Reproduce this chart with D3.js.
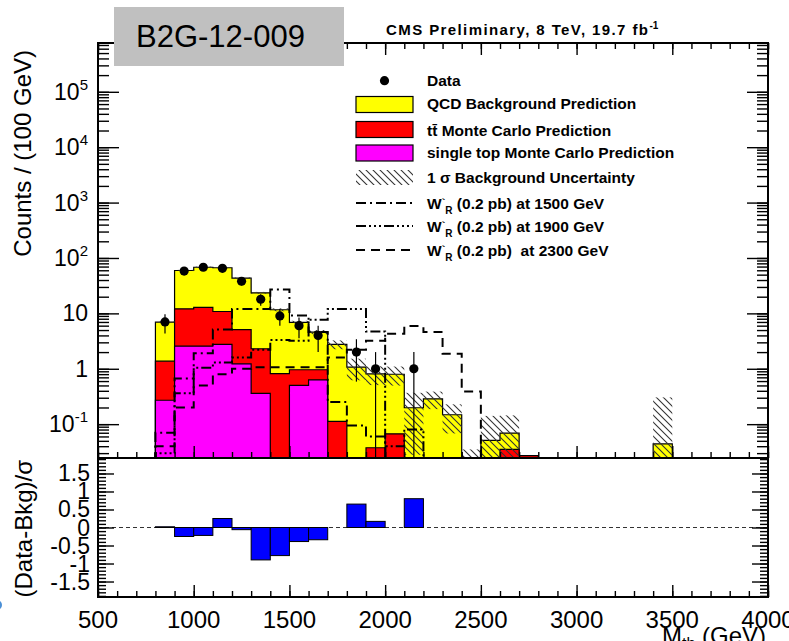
<!DOCTYPE html>
<html>
<head>
<meta charset="utf-8">
<script src="https://cdn.jsdelivr.net/npm/d3@7"></script>
<style>
  body { margin: 0; background: #fff; }
  svg { display: block; font-family: "Liberation Sans", Arial, sans-serif; }
  text { white-space: pre; }
</style>
</head>
<body>
<div id="chart"></div>
<script>
// ---- data ----
// low edge of each 100 GeV bin
var binLow = [800, 900, 1000, 1100, 1200, 1300, 1400, 1500, 1600, 1700, 1800, 1900, 2000, 2100,
              2200, 2300, 2400, 2500, 2600, 2700, 2800, 2900, 3000, 3100, 3200, 3300, 3400];
var singleTop = [0.27, 2.56, 2.56, 2.75, 1.23, 0.36, 0, 0.5, 0.63, 0, 0, 0, 0, 0,
                 0, 0, 0, 0, 0, 0, 0, 0, 0, 0, 0, 0, 0];
var ttbar = [1.1, 9.5, 10.3, 8.05, 3.87, 1.94, 0.82, 0.46, 0.33, 0.112, 0, 0.0375, 0.067, 0,
             0, 0, 0, 0, 0.035, 0.027, 0, 0, 0, 0, 0, 0, 0];
var qcd = [5.57, 47.4, 55.1, 55.8, 38.1, 21.2, 10.8, 5.94, 3.64, 2.64, 1.07, 0.77, 0.73, 0.198,
           0.287, 0.148, 0, 0.051, 0.034, 0, 0, 0, 0, 0, 0, 0, 0.044];
var bkgErr = [0.25, 1.5, 1.8, 1.8, 1.3, 0.9, 0.7, 0.45, 0.4, 0.5, 0.45, 0.3, 0.3, 0.17,
              0.1, 0.08, 0.035, 0.09, 0.075, 0, 0, 0, 0, 0, 0, 0, 0.26];
var dataCounts = [7, 58, 68, 65, 38, 18, 9, 6, 4, 0, 2, 1, 0, 1,
                  0, 0, 0, 0, 0, 0, 0, 0, 0, 0, 0, 0, 0];
var pull = [0.02, -0.25, -0.22, 0.25, -0.06, -0.9, -0.78, -0.39, -0.34, 0, 0.65, 0.17, 0, 0.8,
            0, 0, 0, 0, 0, 0, 0, 0, 0, 0, 0, 0, 0];
var w1500 = [0.07, 0.67, 1.9, 5.1, 12, 12, 27, 9.2, 4.6, 0.25, 0.095, 0.06, 0, 0,
             0, 0, 0, 0, 0, 0, 0, 0, 0, 0, 0, 0, 0];
var w1900 = [0.03, 0.36, 1.04, 1.3, 1.6, 2.2, 3.3, 3.2, 7.7, 12, 12, 4.7, 0.04, 0.08,
             0, 0, 0, 0, 0, 0, 0, 0, 0, 0, 0, 0, 0];
var w2300 = [0.04, 0.2, 0.5, 0.8, 1.0, 1.07, 1.07, 1.07, 1.07, 1.6, 2.2, 3.2, 4.3, 5.9,
             4.6, 1.86, 0.39, 0, 0, 0, 0, 0, 0, 0, 0, 0, 0];

// tick labels
var xTicks = [500, 1000, 1500, 2000, 2500, 3000, 3500, 4000];
var yExponents = [-1, 0, 1, 2, 3, 4, 5];
var pullTicks = [1.5, 1, 0.5, 0, -0.5, -1, -1.5];

var binWidth = 100;

// ---- frame geometry ----
var W = 789, H = 641;
var fLeft = 98, fRight = 768, fTop = 43, fMid = 458, fBottom = 597;

var svg = d3.select("#chart").append("svg")
    .attr("width", W)
    .attr("height", H);

var x = d3.scaleLinear().domain([500, 4000]).range([fLeft, fRight]);
var y = d3.scaleLog().domain([0.0245, 7.6e5]).range([fMid, fTop]);
var yr = d3.scaleLinear().domain([-1.93, 1.93]).range([fBottom, fMid]);

var defs = svg.append("defs");
defs.append("clipPath").attr("id", "clipMain")
  .append("rect")
    .attr("x", fLeft).attr("y", fTop)
    .attr("width", fRight - fLeft).attr("height", fMid - fTop);
var hatch = defs.append("pattern")
    .attr("id", "hatch")
    .attr("patternUnits", "userSpaceOnUse")
    .attr("width", 7).attr("height", 7);
hatch.append("path")
    .attr("d", "M-1,-1 L8,8 M-1,6 L1,8 M6,-1 L8,1")
    .attr("stroke", "#333")
    .attr("stroke-width", 1.1);

/* cumulative stack, drawn from the bottom like THStack */
var cumST = singleTop.slice();
var cumTT = singleTop.map(function(v, i) { return v + ttbar[i]; });
var total = cumTT.map(function(v, i) { return v + qcd[i]; });

function histPoints(vals) {
  var pts = [[binLow[0], 0]];
  vals.forEach(function(v, i) {
    pts.push([binLow[i], v]);
    pts.push([binLow[i] + binWidth, v]);
  });
  pts.push([binLow[binLow.length - 1] + binWidth, 0]);
  return pts;
}
function yClamp(v) {
  return v > 0 ? Math.min(y(v), fMid + 4) : fMid + 4;
}
var stepLine = d3.line()
    .x(function(d) { return x(d[0]); })
    .y(function(d) { return yClamp(d[1]); });

var plot = svg.append("g").attr("clip-path", "url(#clipMain)");

var layers = [
  {vals: total, fill: "#ffff00"},
  {vals: cumTT, fill: "#ff0000"},
  {vals: cumST, fill: "#ff00ff"}
];
layers.forEach(function(l) {
  plot.append("path")
      .attr("d", stepLine(histPoints(l.vals)))
      .attr("fill", l.fill)
      .attr("stroke", "#000")
      .attr("stroke-width", 1.2);
});

/* 1 sigma band */
plot.selectAll("rect.band")
  .data(binLow.map(function(lo, i) { return {lo: lo, t: total[i], e: bkgErr[i]}; })
              .filter(function(d) { return d.e > 0; }))
  .enter().append("rect")
    .attr("class", "band")
    .attr("x", function(d) { return x(d.lo); })
    .attr("width", function(d) { return x(d.lo + binWidth) - x(d.lo); })
    .attr("y", function(d) { return y(d.t + d.e); })
    .attr("height", function(d) { return yClamp(d.t - d.e) - y(d.t + d.e); })
    .attr("fill", "url(#hatch)");

/* signal curves */
var signals = [
  {vals: w1500, dash: "10,4,2,4"},
  {vals: w1900, dash: "10,3,2,3,2,3,2,3"},
  {vals: w2300, dash: "9,6"}
];
signals.forEach(function(s) {
  plot.append("path")
      .attr("d", stepLine(histPoints(s.vals)))
      .attr("fill", "none")
      .attr("stroke", "#000")
      .attr("stroke-width", 2)
      .attr("stroke-dasharray", s.dash);
});

/* data points with poisson errors */
var pts = binLow.map(function(lo, i) { return {c: lo + binWidth / 2, n: dataCounts[i]}; })
                .filter(function(d) { return d.n > 0; });
plot.selectAll("line.err")
  .data(pts)
  .enter().append("line")
    .attr("x1", function(d) { return x(d.c); })
    .attr("x2", function(d) { return x(d.c); })
    .attr("y1", function(d) { return y(d.n + Math.sqrt(d.n)); })
    .attr("y2", function(d) { return yClamp(d.n - Math.sqrt(d.n)); })
    .attr("stroke", "#000")
    .attr("stroke-width", 1.2);
plot.selectAll("circle.pt")
  .data(pts)
  .enter().append("circle")
    .attr("cx", function(d) { return x(d.c); })
    .attr("cy", function(d) { return y(d.n); })
    .attr("r", 4.6)
    .attr("fill", "#000");

/* ratio panel */
svg.append("line")
    .attr("x1", fLeft).attr("x2", fRight)
    .attr("y1", yr(0)).attr("y2", yr(0))
    .attr("stroke", "#333")
    .attr("stroke-width", 1)
    .attr("stroke-dasharray", "4,3");
svg.selectAll("rect.pull")
  .data(binLow.map(function(lo, i) { return {lo: lo, v: pull[i]}; })
              .filter(function(d) { return d.v !== 0; }))
  .enter().append("rect")
    .attr("x", function(d) { return x(d.lo); })
    .attr("width", function(d) { return x(d.lo + binWidth) - x(d.lo); })
    .attr("y", function(d) { return yr(Math.max(d.v, 0)); })
    .attr("height", function(d) { return Math.abs(yr(d.v) - yr(0)); })
    .attr("fill", "#0000ff")
    .attr("stroke", "#000")
    .attr("stroke-width", 1);

/* ---- axes (ticks point inwards) ---- */
var minorX = d3.range(500, 4001, 100);
var minorY = [];
for (var e = -2; e <= 5; e++) {
  for (var k = 1; k <= 9; k++) {
    var v = k * Math.pow(10, e);
    if (v >= 0.0245 && v <= 7.6e5) minorY.push(v);
  }
}
var minorPull = d3.range(-19, 20).map(function(i) { return i / 10; });

function tickAxis(axis, tx, ty) {
  var g = svg.append("g")
      .attr("transform", "translate(" + tx + "," + ty + ")")
      .call(axis.tickFormat(""));
  g.select(".domain").remove();
  g.selectAll("line").attr("stroke", "#000").attr("stroke-width", 1.4);
  return g;
}
var majorY = yExponents.map(function(p) { return Math.pow(10, p); });
tickAxis(d3.axisLeft(y).tickValues(minorY).tickSize(-11), fLeft, 0);
tickAxis(d3.axisLeft(y).tickValues(majorY).tickSize(-21), fLeft, 0);
tickAxis(d3.axisRight(y).tickValues(minorY).tickSize(-11), fRight, 0);
tickAxis(d3.axisRight(y).tickValues(majorY).tickSize(-21), fRight, 0);

[[fTop, "top"], [fMid, "bottom"], [fBottom, "bottom"]].forEach(function(p) {
  var mk = p[1] === "top" ? d3.axisBottom : d3.axisTop;
  tickAxis(mk(x).tickValues(minorX).tickSize(6), 0, p[0]);
  tickAxis(mk(x).tickValues(xTicks).tickSize(12), 0, p[0]);
});

tickAxis(d3.axisLeft(yr).tickValues(minorPull).tickSize(-8), fLeft, 0);
tickAxis(d3.axisLeft(yr).tickValues(pullTicks).tickSize(-16), fLeft, 0);
tickAxis(d3.axisRight(yr).tickValues(minorPull).tickSize(-8), fRight, 0);
tickAxis(d3.axisRight(yr).tickValues(pullTicks).tickSize(-16), fRight, 0);

/* frames */
svg.append("rect")
    .attr("x", fLeft).attr("y", fTop)
    .attr("width", fRight - fLeft).attr("height", fMid - fTop)
    .attr("fill", "none").attr("stroke", "#000").attr("stroke-width", 2);
svg.append("rect")
    .attr("x", fLeft).attr("y", fMid)
    .attr("width", fRight - fLeft).attr("height", fBottom - fMid)
    .attr("fill", "none").attr("stroke", "#000").attr("stroke-width", 2);

/* tick labels */
var yLab = svg.selectAll("text.ylab")
  .data(yExponents)
  .enter().append("text")
    .attr("x", 88)
    .attr("y", function(p) { return y(Math.pow(10, p)) + 8; })
    .attr("text-anchor", "end")
    .attr("font-size", 23);
yLab.each(function(p) {
  var t = d3.select(this);
  if (p === 0) { t.text("1"); return; }
  t.append("tspan").text("10");
  if (p !== 1) {
    t.append("tspan").attr("font-size", 15).attr("dy", -10).text(String(p));
  }
});

svg.selectAll("text.plab")
  .data(pullTicks)
  .enter().append("text")
    .attr("x", 90)
    .attr("y", function(v) { return yr(v) + 8; })
    .attr("text-anchor", "end")
    .attr("font-size", 23)
    .text(function(v) { return String(v); });

svg.selectAll("text.xlab")
  .data(xTicks)
  .enter().append("text")
    .attr("x", function(v) { return x(v); })
    .attr("y", 628)
    .attr("text-anchor", "middle")
    .attr("font-size", 24)
    .text(function(v) { return String(v); });

/* axis titles */
svg.append("text")
    .attr("transform", "translate(31,50) rotate(-90)")
    .attr("text-anchor", "end")
    .attr("font-size", 24)
    .text("Counts / (100 GeV)");
svg.append("text")
    .attr("transform", "translate(32,460) rotate(-90)")
    .attr("text-anchor", "end")
    .attr("font-size", 24)
    .text("(Data-Bkg)/\u03c3");
var xt = svg.append("text")
    .attr("x", 766).attr("y", 644)
    .attr("text-anchor", "end")
    .attr("font-size", 24);
xt.append("tspan").text("M");
xt.append("tspan").attr("font-size", 16).attr("dy", 5).text("tb");
xt.append("tspan").attr("dy", -5).text(" (GeV)");

/* header */
var hdr = svg.append("text")
    .attr("x", 386).attr("y", 35)
    .attr("font-size", 15)
    .attr("font-weight", "bold");
hdr.append("tspan")
    .attr("textLength", 262)
    .attr("lengthAdjust", "spacing")
    .text("CMS Preliminary, 8 TeV, 19.7 fb");
hdr.append("tspan").attr("font-size", 10).attr("dy", -6).text("-1");

/* analysis tag box */
svg.append("rect")
    .attr("x", 114).attr("y", 7)
    .attr("width", 230).attr("height", 59)
    .attr("fill", "#c0c0c0");
svg.append("text")
    .attr("x", 136).attr("y", 47)
    .attr("font-size", 31)
    .text("B2G-12-009");

/* ---- legend ---- */
var lg = svg.append("g").attr("font-size", 15.5).attr("font-weight", "bold");
var lx = 356, lw = 57, tx = 427;

lg.append("circle").attr("cx", lx + lw / 2).attr("cy", 80.7).attr("r", 4.6).attr("fill", "#000");
[[104.5, "#ffff00"], [129.5, "#ff0000"], [153, "#ff00ff"]].forEach(function(b) {
  lg.append("rect")
      .attr("x", lx).attr("y", b[0] - 8)
      .attr("width", lw).attr("height", 16)
      .attr("fill", b[1]).attr("stroke", "#000").attr("stroke-width", 1.2);
});
lg.append("rect")
    .attr("x", lx).attr("y", 170)
    .attr("width", lw).attr("height", 15)
    .attr("fill", "url(#hatch)");
[[203, signals[0].dash], [226, signals[1].dash], [250, signals[2].dash]].forEach(function(s) {
  lg.append("line")
      .attr("x1", lx).attr("x2", lx + lw)
      .attr("y1", s[0]).attr("y2", s[0])
      .attr("stroke", "#000").attr("stroke-width", 2)
      .attr("stroke-dasharray", s[1]);
});

function legText(yc) {
  return lg.append("text").attr("x", tx).attr("y", yc + 5.5);
}
legText(80.7).text("Data");
legText(103.5).text("QCD Background Prediction");
legText(130.5).text("tt\u0304 Monte Carlo Prediction");
legText(152).text("single top Monte Carlo Prediction");
legText(177).text("1 \u03c3 Background Uncertainty");
[[203, "(0.2 pb) at 1500 GeV"], [226, "(0.2 pb) at 1900 GeV"], [250, "(0.2 pb)  at 2300 GeV"]]
  .forEach(function(r) {
    var t = legText(r[0]);
    t.append("tspan").text("W");
    t.append("tspan").attr("font-size", 11).attr("dy", -3).text("`");
    t.append("tspan").attr("font-size", 10).attr("dy", 8).text("R");
    t.append("tspan").attr("dy", -5).text(" " + r[1]);
  });

/* clipped blue marker at the left edge */
svg.append("circle").attr("cx", -3).attr("cy", 605).attr("r", 5).attr("fill", "#4a8fd6");
</script>
</body>
</html>
